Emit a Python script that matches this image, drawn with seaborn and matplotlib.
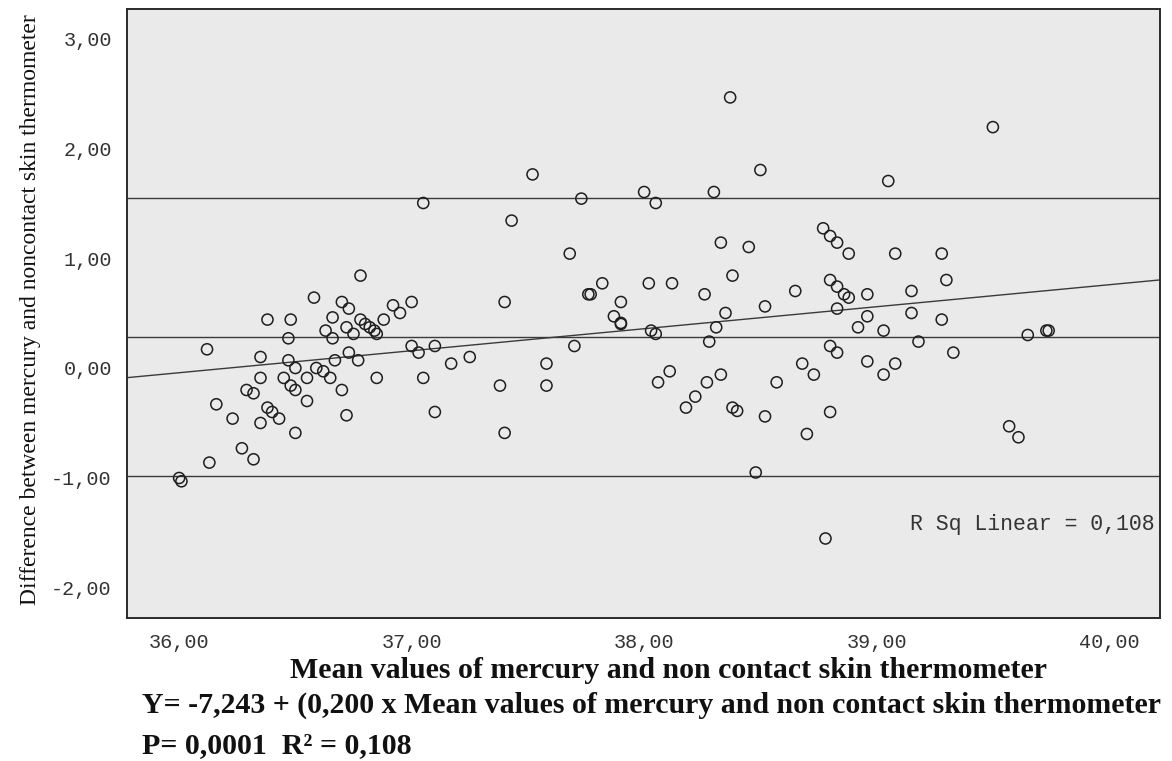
import matplotlib
matplotlib.use("Agg")
import matplotlib.pyplot as plt
import seaborn as sns
import pandas as pd

# ---------------- data ----------------
mean_temp = [
    36.78, 36.58, 36.70, 36.73, 36.92, 37.00, 36.95, 36.38, 36.48, 36.66,
    36.78, 36.80, 36.82, 36.84, 36.85, 36.88, 36.63, 36.72, 36.75, 36.66,
    36.47, 36.12, 36.35, 36.47, 36.50, 36.67, 36.73, 36.77, 36.59, 36.62,
    37.00, 37.03, 37.10, 37.17, 36.35, 36.45, 36.55, 36.65, 36.85, 37.05,
    36.29, 36.32, 36.48, 36.50, 36.70, 36.16, 36.55, 36.38, 36.40, 36.43,
    36.23, 36.35, 36.72, 37.10, 36.50, 36.27, 36.32, 36.13, 36.00, 36.01,
    37.05, 37.52, 37.73, 38.00, 38.05, 37.43, 37.68, 37.82, 38.02, 38.12,
    37.76, 37.77, 37.90, 37.40, 37.87, 37.90, 37.90, 38.03, 38.05, 37.70,
    37.25, 37.58, 37.38, 37.58, 38.11, 38.06, 38.22, 38.18, 37.40,
    38.37, 38.50, 39.05, 38.30, 38.77, 38.80, 38.83, 38.88, 39.08, 38.33,
    38.45, 38.38, 38.26, 38.65, 38.80, 38.83, 38.86, 38.88, 38.96, 39.15,
    38.35, 38.52, 38.83, 38.96, 39.15, 38.31, 38.28, 38.92, 39.03, 39.18,
    38.80, 38.83, 38.68, 38.73, 38.96, 39.08, 39.03, 38.33, 38.27, 38.57,
    38.38, 38.40, 38.52, 38.80, 38.70, 38.48, 38.78,
    39.50, 39.28, 39.30, 39.28, 39.33, 39.65, 39.73, 39.74, 39.57, 39.61,
]
difference = [
    0.84, 0.64, 0.60, 0.54, 0.57, 0.60, 0.50, 0.44, 0.44, 0.46,
    0.44, 0.40, 0.37, 0.34, 0.31, 0.44, 0.34, 0.37, 0.31, 0.27,
    0.27, 0.17, 0.10, 0.07, 0.00, 0.07, 0.14, 0.07, 0.00, -0.03,
    0.20, 0.14, 0.20, 0.04, -0.09, -0.09, -0.09, -0.09, -0.09, -0.09,
    -0.20, -0.23, -0.16, -0.20, -0.20, -0.33, -0.30, -0.36, -0.40, -0.46,
    -0.46, -0.50, -0.43, -0.40, -0.59, -0.73, -0.83, -0.86, -1.00, -1.03,
    1.50, 1.76, 1.54, 1.60, 1.50, 1.34, 1.04, 0.77, 0.77, 0.77,
    0.67, 0.67, 0.60, 0.60, 0.47, 0.41, 0.40, 0.34, 0.31, 0.20,
    0.10, 0.04, -0.16, -0.16, -0.03, -0.13, -0.26, -0.36, -0.59,
    2.46, 1.80, 1.70, 1.60, 1.27, 1.20, 1.14, 1.04, 1.04, 1.14,
    1.10, 0.84, 0.67, 0.70, 0.80, 0.74, 0.67, 0.64, 0.67, 0.70,
    0.50, 0.56, 0.54, 0.47, 0.50, 0.37, 0.24, 0.37, 0.34, 0.24,
    0.20, 0.14, 0.04, -0.06, 0.06, 0.04, -0.06, -0.06, -0.13, -0.13,
    -0.36, -0.39, -0.44, -0.40, -0.60, -0.95, -1.55,
    2.19, 1.04, 0.80, 0.44, 0.14, 0.30, 0.34, 0.34, -0.53, -0.63,
]

mean_diff = 0.28
upper_loa = 1.545
lower_loa = -0.98
intercept = -7.243
slope = 0.200

x_ticks = [36, 37, 38, 39, 40]
x_tick_labels = ["36,00", "37,00", "38,00", "39,00", "40,00"]
y_ticks = [-2, -1, 0, 1, 2, 3]
y_tick_labels = ["-2,00", "-1,00", "0,00", "1,00", "2,00", "3,00"]

x_title = "Mean values of mercury and non contact skin thermometer"
y_title = "Difference between mercury and noncontact skin thermometer"
rsq_text = "R Sq Linear = 0,108"
eq_text = "Y= -7,243 + (0,200 x Mean values of mercury and non contact skin thermometer"
p_text = "P= 0,0001  R\u00b2 = 0,108"

# ---------------- style ----------------
sns.set_style("white")
plt.rcParams["font.family"] = ["Liberation Serif", "DejaVu Serif"]

df = pd.DataFrame({"mean": mean_temp, "diff": difference})

fig = plt.figure(figsize=(11.72, 7.61), dpi=100)
ax = fig.add_axes([0.1084, 0.1879, 0.8814, 0.8003])
ax.set_facecolor("#eaeaea")

sns.scatterplot(data=df, x="mean", y="diff", ax=ax, marker="o", s=64,
                color="none", edgecolor="#1e1e1e", linewidth=1.1, zorder=3)
ax.collections[-1].set_facecolor("none")

line_kw = dict(color="#3a3a3a", linewidth=1.0, zorder=2)
for yv in (upper_loa, mean_diff, lower_loa):
    ax.axhline(yv, **line_kw)
ax.axline((0, intercept), slope=slope, **line_kw)

ax.set_xlim(35.776, 40.219)
ax.set_ylim(-2.273, 3.264)

mono = ["Liberation Mono", "DejaVu Sans Mono"]
ax.set_xticks(x_ticks)
ax.set_xticklabels(x_tick_labels, fontfamily=mono, fontsize=14.5, color="#333333")
ax.set_yticks(y_ticks)
ax.set_yticklabels(y_tick_labels, fontfamily=mono, fontsize=14.5, color="#333333")
ax.tick_params(axis="x", direction="out", length=7, width=1.3, color="#333333", pad=4)
ax.tick_params(axis="y", direction="out", length=9, width=1.3, color="#333333", pad=2)

for sp in ax.spines.values():
    sp.set_visible(True)
    sp.set_color("#2a2a2a")
    sp.set_linewidth(1.4)

ax.set_xlabel(x_title, fontsize=21.5, fontweight="bold", color="#111111",
              ha="left", va="baseline")
ax.xaxis.set_label_coords(0.1578, -0.0985)
ax.set_ylabel(y_title, fontsize=17, color="#111111", va="center")
ax.yaxis.set_label_coords(-0.0939, 0.507)

ax.text(0.9952, 0.153, rsq_text, transform=ax.transAxes, ha="right", va="center",
        fontfamily=mono, fontsize=15.5, color="#333333")

fig.text(142 / 1172, 1 - 713 / 761, eq_text, ha="left", va="baseline",
         fontsize=21.5, fontweight="bold", color="#111111")
fig.text(142 / 1172, 1 - 753 / 761, p_text, ha="left", va="baseline",
         fontsize=21.5, fontweight="bold", color="#111111")

fig.savefig("out.png", dpi=100, facecolor="white")
